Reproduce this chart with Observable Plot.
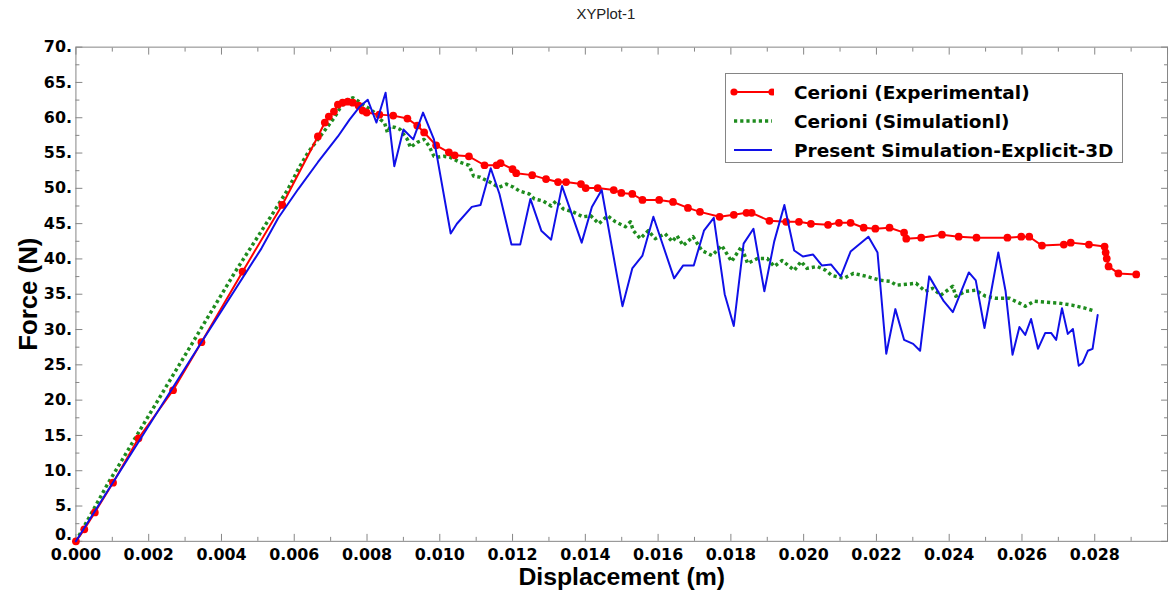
<!DOCTYPE html>
<html>
<head>
<meta charset="utf-8">
<script src="https://cdn.jsdelivr.net/npm/d3@7"></script>
<script src="https://cdn.jsdelivr.net/npm/@observablehq/plot@0.6"></script>
<style>
  html, body { margin: 0; padding: 0; background: #fff; overflow: hidden; }
  #wrap { position: relative; width: 1171px; height: 599px; overflow: hidden; }
  #legend {
    position: absolute; left: 725px; top: 73px; width: 398px; height: 90px;
    border: 1.5px solid #858585; background: #fff; box-sizing: border-box;
    font-family: "DejaVu Sans", Verdana, sans-serif; font-weight: bold; font-size: 18.5px; color: #000;
  }
  .row { position: absolute; left: 0; height: 24px; display: flex; align-items: center; }
  .row svg { margin-left: 4px; margin-right: 20px; }
</style>
</head>
<body>
<div id="wrap">
  <div id="chart"></div>
  <div id="legend"></div>
</div>
<script>
// Cerioni (Experimental): displacement (m) and force (N)
const expDisp = [0, 0.00023, 0.00052, 0.00102, 0.00172, 0.00267, 0.00345, 0.00458, 0.00567, 0.00665,
  0.00684, 0.00695, 0.00709, 0.00720, 0.00733, 0.00747, 0.00761, 0.00777, 0.00788, 0.00799,
  0.00834, 0.00872, 0.00911, 0.00938, 0.00957, 0.00990, 0.01025, 0.01041, 0.01080, 0.01123,
  0.01156, 0.01167, 0.01200, 0.01210, 0.01254, 0.01292, 0.01325, 0.01347, 0.01388, 0.01401,
  0.01434, 0.01478, 0.01499, 0.01529, 0.01557, 0.01603, 0.01641, 0.01682, 0.01715, 0.01769,
  0.01808, 0.01843, 0.01857, 0.01906, 0.01952, 0.01987, 0.02020, 0.02067, 0.02097, 0.02129,
  0.02165, 0.02197, 0.02236, 0.02276, 0.02282, 0.02323, 0.02380, 0.02426, 0.02475, 0.02560,
  0.02598, 0.02620, 0.02655, 0.02715, 0.02734, 0.02784, 0.02827, 0.02830, 0.02833, 0.02838,
  0.02865, 0.02914];
const expForce = [0, 1.7, 4.1, 8.3, 14.6, 21.4, 28.2, 38.2, 47.65, 57.35,
  59.32, 60.16, 60.87, 61.85, 62.13, 62.27, 62.13, 61.71, 61.01, 60.73,
  60.44, 60.30, 59.88, 58.90, 57.91, 56.09, 55.10, 54.68, 54.54, 53.27,
  53.27, 53.56, 52.71, 52.15, 51.87, 51.31, 50.89, 50.89, 50.60, 50.04,
  50.04, 49.76, 49.34, 49.20, 48.36, 48.36, 48.07, 47.23, 46.67, 45.97,
  46.25, 46.53, 46.53, 45.40, 45.26, 45.26, 44.98, 44.84, 45.12, 45.12,
  44.42, 44.28, 44.42, 43.72, 42.87, 43.01, 43.44, 43.15, 43.01, 43.01,
  43.15, 43.15, 41.89, 42.03, 42.31, 42.03, 41.75, 40.91, 40.06, 38.94,
  37.95, 37.81];

// Cerioni (Simulationl)
const cerSimDisp = [0, 0.00088, 0.00438, 0.00556, 0.00583, 0.00611, 0.00638, 0.00665, 0.00692, 0.00712,
  0.00728, 0.00747, 0.00761, 0.00774, 0.00788, 0.00802, 0.00821, 0.00837, 0.00848, 0.00856,
  0.00864, 0.00878, 0.00891, 0.00911, 0.00919, 0.00938, 0.00957, 0.00971, 0.00984, 0.00992,
  0.01011, 0.01028, 0.01055, 0.01080, 0.01093, 0.01110, 0.01137, 0.01156, 0.01164, 0.01183,
  0.01202, 0.01219, 0.01246, 0.01260, 0.01284, 0.01306, 0.01320, 0.01339, 0.01366, 0.01393,
  0.01415, 0.01437, 0.01461, 0.01483, 0.01510, 0.01524, 0.01532, 0.01551, 0.01573, 0.01592,
  0.01619, 0.01639, 0.01652, 0.01669, 0.01696, 0.01720, 0.01748, 0.01775, 0.01802, 0.01829,
  0.01846, 0.01873, 0.01900, 0.01919, 0.01941, 0.01974, 0.01993, 0.02009, 0.02037, 0.02061,
  0.02077, 0.02110, 0.02137, 0.02173, 0.02211, 0.02238, 0.02255, 0.02282, 0.02309, 0.02334,
  0.02355, 0.02377, 0.02410, 0.02418, 0.02445, 0.02473, 0.02500, 0.02527, 0.02565, 0.02593,
  0.02609, 0.02634, 0.02664, 0.02702, 0.02737, 0.02773, 0.02800];
const cerSimForce = [0, 8.2, 38.2, 47.65, 49.9, 52.71, 55.10, 56.93, 58.76, 60.16,
  61.57, 62.55, 62.83, 62.41, 61.85, 61.43, 60.73, 59.74, 59.32, 57.91,
  58.76, 58.62, 58.34, 56.93, 55.81, 56.51, 56.93, 55.95, 54.54, 54.40,
  54.54, 54.40, 53.70, 53.27, 51.73, 51.59, 50.89, 50.32, 50.18, 50.60,
  50.18, 49.62, 49.20, 48.50, 48.21, 47.51, 48.21, 47.09, 46.67, 45.97,
  46.11, 44.98, 46.11, 45.26, 44.56, 45.26, 44.00, 42.87, 44.00, 42.87,
  43.58, 42.45, 43.29, 41.89, 43.15, 41.19, 40.48, 41.89, 39.64, 41.75,
  39.36, 40.06, 40.06, 38.94, 39.78, 38.38, 39.64, 38.66, 38.94, 38.38,
  37.67, 37.25, 37.95, 37.53, 36.97, 36.83, 36.27, 36.41, 36.55, 35.42,
  35.84, 34.86, 36.13, 34.72, 35.42, 35.56, 34.72, 34.44, 34.44, 33.74,
  33.31, 34.02, 33.88, 33.74, 33.46, 33.03, 32.61];

// Present Simulation-Explicit-3D
const presDisp = [0, 0.00100, 0.00345, 0.00510, 0.00556, 0.00611, 0.00665, 0.00720, 0.00752, 0.00780,
  0.00802, 0.00826, 0.00851, 0.00875, 0.00900, 0.00927, 0.00954, 0.00984, 0.01030, 0.01047,
  0.01088, 0.01112, 0.01140, 0.01164, 0.01197, 0.01221, 0.01249, 0.01279, 0.01306, 0.01336,
  0.01390, 0.01418, 0.01445, 0.01502, 0.01529, 0.01557, 0.01587, 0.01644, 0.01669, 0.01698,
  0.01726, 0.01753, 0.01783, 0.01808, 0.01835, 0.01862, 0.01892, 0.01919, 0.01947, 0.01974,
  0.01998, 0.02026, 0.02050, 0.02075, 0.02102, 0.02129, 0.02178, 0.02203, 0.02227, 0.02252,
  0.02276, 0.02301, 0.02320, 0.02345, 0.02385, 0.02410, 0.02454, 0.02473, 0.02497, 0.02535,
  0.02555, 0.02574, 0.02593, 0.02609, 0.02625, 0.02644, 0.02664, 0.02680, 0.02694, 0.02710,
  0.02726, 0.02740, 0.02756, 0.02767, 0.02781, 0.02794, 0.02808];
const presForce = [0, 8.2, 28.2, 41.5, 45.8, 49.9, 53.70, 57.35, 59.74, 61.57,
  62.55, 59.32, 63.55, 53.13, 58.34, 56.93, 60.73, 56.93, 43.6, 44.98,
  47.37, 47.65, 52.85, 49.20, 42.03, 42.03, 48.50, 44.00, 42.73, 50.32,
  42.31, 47.37, 49.76, 33.31, 38.66, 40.48, 45.97, 37.25, 39.08, 39.08,
  44.00, 45.83, 35.00, 30.50, 42.17, 44.28, 35.42, 42.45, 47.65, 41.19,
  40.34, 40.62, 39.08, 39.22, 37.53, 41.05, 43.15, 40.91, 26.57, 32.89,
  28.54, 27.97, 26.99, 37.53, 34.02, 32.47, 38.09, 36.97, 30.22, 40.91,
  35.42, 26.43, 30.36, 29.24, 31.49, 27.27, 29.52, 29.52, 28.54, 33.03,
  29.38, 30.08, 24.88, 25.30, 26.99, 27.27, 32.05];

// Axis ticks (the frame runs to 0.030, labels stop at 0.028)
const xMajorTicks = d3.range(0, 0.0301, 0.002);
const xMinorTicks = d3.range(0.001, 0.0301, 0.002);
const xLabelTicks = d3.range(0, 0.0281, 0.002);
const yMajorTicks = d3.range(0, 71, 5);
const yMinorTicks = d3.range(2.5, 70, 5);

const seriesNames = ["Cerioni (Experimental)", "Cerioni (Simulationl)", "Present Simulation-Explicit-3D"];
const seriesColors = ["#ff0000", "#1e8c1e", "#1010e8"];

const frameGray = "#858585";
const tickFont = {fontFamily: "DejaVu Sans, Verdana, sans-serif", fontWeight: "bold", fontSize: 16, fill: "#000"};
const titleFont = "Liberation Sans, Arial, sans-serif";

// inward-pointing ticks on all four sides of the frame
const tickMarks = [];
for (const [ticks, size] of [[xMajorTicks, 7], [xMinorTicks, 4]]) {
  tickMarks.push(Plot.axisX(ticks, {anchor: "bottom", tickSize: -size, stroke: frameGray, fill: "none", label: null}));
  tickMarks.push(Plot.axisX(ticks, {anchor: "top", tickSize: -size, stroke: frameGray, fill: "none", label: null}));
}
for (const [ticks, size] of [[yMajorTicks, 7], [yMinorTicks, 4]]) {
  tickMarks.push(Plot.axisY(ticks, {anchor: "left", tickSize: -size, stroke: frameGray, fill: "none", label: null}));
  tickMarks.push(Plot.axisY(ticks, {anchor: "right", tickSize: -size, stroke: frameGray, fill: "none", label: null}));
}

const chart = Plot.plot({
  width: 1180,
  height: 599,
  marginLeft: 76,
  marginRight: 4,
  marginTop: 47,
  marginBottom: 54,
  x: {domain: [0, 0.030]},
  y: {domain: [0, 70]},
  style: {background: "#fff", overflow: "visible"},
  marks: [
    Plot.frame({stroke: frameGray, strokeWidth: 1}),
    ...tickMarks,
    Plot.axisX(xLabelTicks, {anchor: "bottom", tickSize: 0, tickPadding: 7, tickFormat: d3.format(".3f"), label: null, ...tickFont}),
    Plot.axisY(yMajorTicks.filter(d => d > 0), {anchor: "left", tickSize: 0, tickPadding: 4, tickFormat: d => `${d}.`, label: null, ...tickFont}),
    // the zero label sits a little above its tick, clear of "0.000"
    Plot.axisY([0], {anchor: "left", tickSize: 0, tickPadding: 4, dy: -6, tickFormat: d => `${d}.`, label: null, ...tickFont}),
    Plot.line(cerSimForce, {x: cerSimDisp, y: cerSimForce, stroke: seriesColors[1], strokeWidth: 3.5, strokeDasharray: "3.2 3", strokeLinecap: "butt", strokeLinejoin: "round"}),
    Plot.line(expForce, {x: expDisp, y: expForce, stroke: seriesColors[0], strokeWidth: 2}),
    Plot.dot(expForce, {x: expDisp, y: expForce, r: 3.9, fill: seriesColors[0]}),
    Plot.line(presForce, {x: presDisp, y: presForce, stroke: seriesColors[2], strokeWidth: 2}),
    Plot.text(["XYPlot-1"], {frameAnchor: "top", dx: -16, dy: -33, lineAnchor: "middle", fontSize: 15, fontFamily: titleFont, fill: "#222"}),
    Plot.text(["Displacement (m)"], {frameAnchor: "bottom", dy: 36, lineAnchor: "middle", fontSize: 25, fontWeight: "bold", fontFamily: titleFont, fill: "#000"}),
    Plot.text(["Force (N)"], {frameAnchor: "left", dx: -48, rotate: -90, lineAnchor: "middle", textAnchor: "middle", fontSize: 26, fontWeight: "bold", fontFamily: titleFont, fill: "#000"})
  ]
});
document.getElementById("chart").append(chart);

// legend: line samples and series names
const legend = d3.select("#legend");
const rowTops = [6, 35, 64];
seriesNames.forEach((name, i) => {
  const row = legend.append("div").attr("class", "row").style("top", `${rowTops[i]}px`);
  const s = row.append("svg").attr("width", 44).attr("height", 12);
  const ln = s.append("line").attr("x1", 4).attr("x2", 42).attr("y1", 6).attr("y2", 6).attr("stroke", seriesColors[i]);
  if (i === 0) {
    ln.attr("stroke-width", 2);
    s.append("circle").attr("cx", 4).attr("cy", 6).attr("r", 3.6).attr("fill", seriesColors[i]);
    s.append("circle").attr("cx", 42).attr("cy", 6).attr("r", 3.6).attr("fill", seriesColors[i]);
  } else if (i === 1) {
    ln.attr("stroke-width", 3.5).attr("stroke-dasharray", "3.2 3");
  } else {
    ln.attr("stroke-width", 2);
  }
  row.append("span").text(name);
});
</script>
</body>
</html>
